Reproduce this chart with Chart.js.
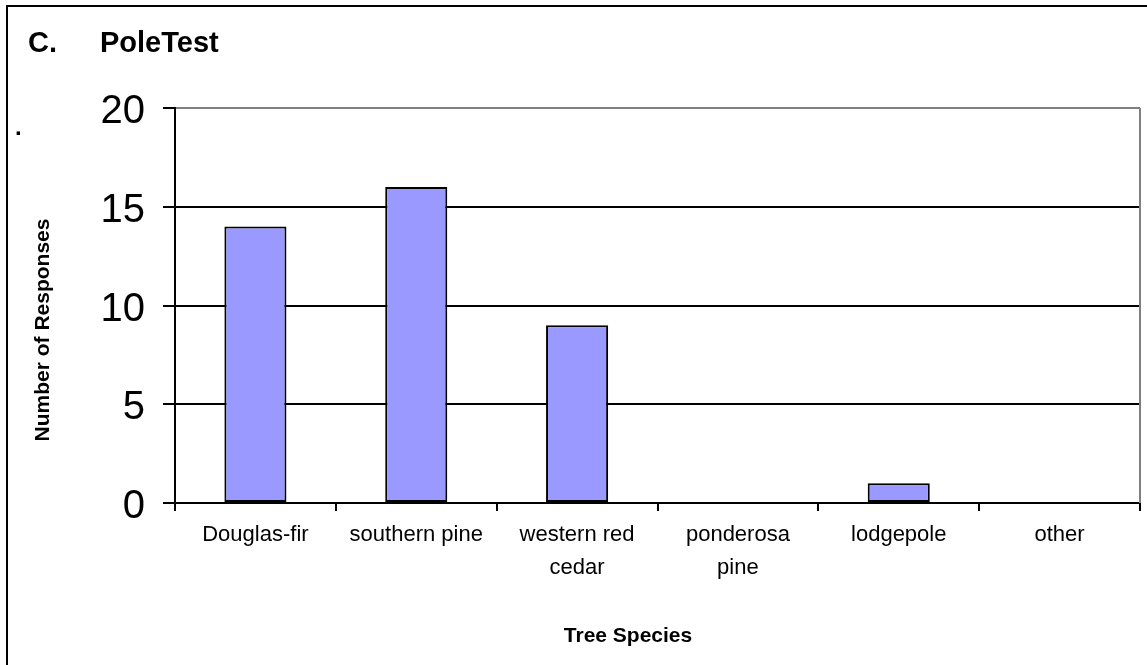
<!DOCTYPE html>
<html>
<head>
<meta charset="utf-8">
<script src="https://cdn.jsdelivr.net/npm/chart.js@4"></script>
<style>
  html, body { margin: 0; padding: 0; width: 1147px; height: 665px; overflow: hidden; background: #fff; }
  body { position: relative; font-family: "Liberation Sans", Arial, sans-serif; }
  #frame { position: absolute; left: 6px; top: 5px; width: 1200px; height: 700px; border: 2px solid #000; }
  #chart { position: absolute; left: 0; top: 0; }
  .txt { position: absolute; white-space: nowrap; color: #000; }
  #title { left: 28px; top: 28px; font-size: 29px; line-height: 29px; font-weight: bold; }
  #title span { display: inline-block; width: 72px; }
  #dot { left: 15px; top: 115px; font-size: 24px; line-height: 24px; font-weight: bold; }
  #yTitle { left: 41px; top: 330px; font-size: 21px; line-height: 21px; font-weight: bold;
            transform: translate(-50%, -50%) rotate(-90deg); }
  #xTitle { left: 628px; top: 624px; font-size: 21px; line-height: 21px; font-weight: bold;
            transform: translateX(-50%); }
</style>
</head>
<body>
<div id="frame"></div>
<canvas id="chart" width="1147" height="665"></canvas>
<div class="txt" id="title"><span>C.</span>PoleTest</div>
<div class="txt" id="dot">.</div>
<div class="txt" id="yTitle">Number of Responses</div>
<div class="txt" id="xTitle">Tree Species</div>

<script>
// DATA
const categories = ["Douglas-fir", "southern pine", ["western red", "cedar"], ["ponderosa", "pine"], "lodgepole", "other"];
const responses = [14, 16, 9, 0, 1, 0];
const yTicks = [0, 5, 10, 15, 20];

const FONT = "'Liberation Sans', Arial, sans-serif";

// right edge of the plot area (grey, like the top gridline)
const plotEdge = {
  id: "plotEdge",
  afterDraw(chart) {
    const a = chart.chartArea;
    const ctx = chart.ctx;
    ctx.save();
    ctx.strokeStyle = "#808080";
    ctx.lineWidth = 2;
    ctx.beginPath();
    ctx.moveTo(a.right, a.top);
    ctx.lineTo(a.right, a.bottom);
    ctx.stroke();
    ctx.restore();
  }
};

const ctx = document.getElementById("chart").getContext("2d");
new Chart(ctx, {
  type: "bar",
  data: {
    labels: categories,
    datasets: [{
      label: "Number of Responses",
      data: responses,
      backgroundColor: "#9999FF",
      borderColor: "#000",
      borderWidth: 2,
      borderSkipped: false,
      barPercentage: 0.386,
      categoryPercentage: 1
    }]
  },
  options: {
    responsive: false,
    animation: false,
    devicePixelRatio: 1,
    layout: { padding: { left: 0, top: 108, right: 7, bottom: 0 } },
    plugins: {
      legend: { display: false },
      tooltip: { enabled: false }
    },
    scales: {
      x: {
        offset: true,
        grid: {
          offset: true,
          drawOnChartArea: false,
          drawTicks: true,
          tickLength: 8,
          color: "#000",
          lineWidth: 2
        },
        border: { color: "#000", width: 2 },
        ticks: {
          color: "#000",
          padding: 7,
          maxRotation: 0,
          autoSkip: false,
          font: { family: FONT, size: 22, lineHeight: 1.5 }
        },
        afterFit(scale) { scale.height = 162; }
      },
      y: {
        min: yTicks[0],
        max: yTicks[yTicks.length - 1],
        grid: {
          color: c => (c.tick && c.tick.value === yTicks[yTicks.length - 1]) ? "#808080" : "#000",
          tickColor: "#000",
          lineWidth: 2,
          tickLength: 12
        },
        border: { color: "#000", width: 2 },
        ticks: {
          stepSize: yTicks[1] - yTicks[0],
          color: "#000",
          padding: 18,
          labelOffset: 4,
          font: { family: FONT, size: 40 }
        },
        afterFit(scale) { scale.width = 175; }
      }
    }
  },
  plugins: [plotEdge]
});
</script>
</body>
</html>
